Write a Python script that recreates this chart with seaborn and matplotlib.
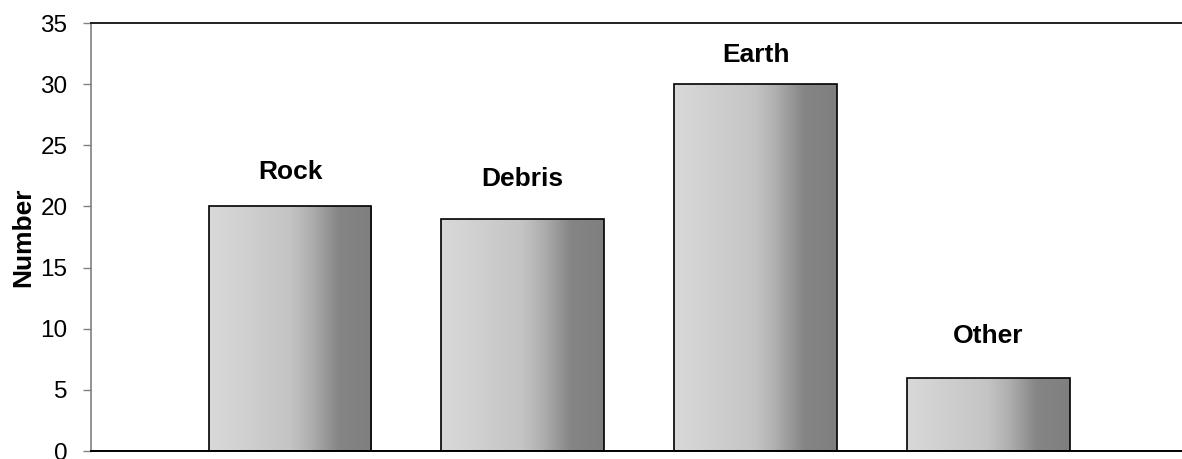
import numpy as np
import pandas as pd
import matplotlib
matplotlib.use("Agg")
import matplotlib.pyplot as plt
from matplotlib.colors import LinearSegmentedColormap
import seaborn as sns

# Landslide counts by material type
categories = ["Rock", "Debris", "Earth", "Other"]
counts = [20, 19, 30, 6]

# Vertical gap (points) between each bar top and its name label
label_gap_pt = [24.5, 28.5, 21.0, 30.0]

sns.set_theme(style="white")
plt.rcParams["font.family"] = ["Liberation Sans", "DejaVu Sans"]

df = pd.DataFrame({"type": categories, "count": counts})

fig = plt.figure(figsize=(11.82, 4.59), dpi=100)
ax = fig.add_axes([91 / 1182, 8 / 459, 1 - 91 / 1182, 428 / 459])

sns.barplot(data=df, x="type", y="count", ax=ax, width=0.70,
            color="white", edgecolor="black", linewidth=1.2, zorder=3)

# Horizontal shading: light on the left, dark band on the right
shade = LinearSegmentedColormap.from_list(
    "barshade",
    [(0.0, "#d9d9d9"), (0.5, "#c4c4c4"), (0.62, "#b0b0b0"),
     (0.8, "#858585"), (1.0, "#7f7f7f")])
grad = np.linspace(0, 1, 256).reshape(1, -1)
for patch in ax.patches:
    patch.set_facecolor("none")
    x0, y0 = patch.get_x(), patch.get_y()
    w, h = patch.get_width(), patch.get_height()
    im = ax.imshow(grad, cmap=shade, aspect="auto", vmin=0, vmax=1,
                   extent=(x0, x0 + w, y0, y0 + h), zorder=2,
                   interpolation="bicubic")
    im.set_clip_path(patch)

for i, (name, val) in enumerate(zip(categories, counts)):
    ax.annotate(name, (i, val), xytext=(0, label_gap_pt[i]),
                textcoords="offset points", ha="center", va="center",
                fontsize=19, fontweight="bold", color="black")

ax.set_xlim(-0.855, 3.832)
ax.set_ylim(0, 35)
ax.set_yticks(range(0, 36, 5))
ax.set_xticks([])
ax.set_xlabel("")
ax.set_ylabel("Number", fontsize=19, fontweight="bold", labelpad=3.5,
              color="black")

ax.tick_params(axis="y", which="both", left=True, length=6, width=1,
               color="#808080", labelsize=17.5, pad=11, labelcolor="black")

ax.spines["left"].set_color("#808080")
ax.spines["left"].set_linewidth(1.2)
ax.spines["top"].set_color("#202020")
ax.spines["top"].set_linewidth(1.4)
ax.spines["bottom"].set_color("black")
ax.spines["bottom"].set_linewidth(1.4)
ax.spines["right"].set_visible(False)

fig.savefig("out.png", dpi=100)
